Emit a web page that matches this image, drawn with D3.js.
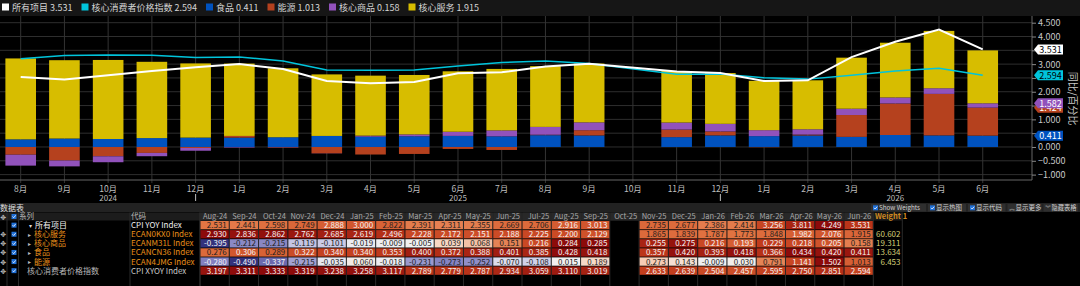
<!DOCTYPE html>
<html><head><meta charset="utf-8">
<script src="https://cdn.jsdelivr.net/npm/d3@7"></script>
<style>
html,body{margin:0;padding:0;background:#000;}
svg{display:block;font-family:"Noto Sans CJK SC","Noto Sans",sans-serif;}
</style></head><body>
<svg id="chart" width="1080" height="286"></svg>
<script>
var months = ['Aug-24','Sep-24','Oct-24','Nov-24','Dec-24','Jan-25','Feb-25','Mar-25','Apr-25','May-25','Jun-25','Jul-25',
  'Aug-25','Sep-25','Oct-25','Nov-25','Dec-25','Jan-26','Feb-26','Mar-26','Apr-26','May-26','Jun-26'];
var monthTicks = ['8月','9月','10月','11月','12月','1月','2月','3月','4月','5月','6月','7月',
  '8月','9月','10月','11月','12月','1月','2月','3月','4月','5月','6月'];
var yearTicks = ['2024','2025','2026'];
var yearTickAt = ['Oct-24','Jun-25','Apr-26'];
var yearMarkAt = ['Dec-24','Dec-25'];

var allItems     = [2.531,2.441,2.598,2.749,2.888,3.000,2.822,2.391,2.311,2.355,2.669,2.706,2.916,3.013,null,2.735,2.677,2.386,2.414,3.256,3.811,4.249,3.531];
var coreServices = [2.930,2.836,2.862,2.762,2.685,2.619,2.496,2.228,2.172,2.151,2.188,2.225,2.200,2.129,null,1.865,1.839,1.787,1.773,1.848,1.982,2.076,1.915];
var coreGoods    = [-0.395,-0.212,-0.215,-0.119,-0.101,-0.019,-0.009,-0.005,0.039,0.068,0.151,0.216,0.284,0.285,null,0.255,0.275,0.216,0.193,0.229,0.218,0.205,0.158];
var food         = [0.276,0.306,0.289,0.322,0.340,0.340,0.353,0.400,0.372,0.388,0.401,0.385,0.428,0.418,null,0.357,0.420,0.393,0.418,0.366,0.434,0.420,0.411];
var energy       = [-0.280,-0.490,-0.337,-0.215,-0.035,0.060,-0.018,-0.231,-0.273,-0.252,-0.070,-0.108,0.015,0.189,null,0.273,0.143,-0.009,0.030,0.791,1.141,1.502,1.013];
var coreCPI      = [3.197,3.311,3.333,3.319,3.238,3.258,3.117,2.789,2.779,2.787,2.934,3.059,3.110,3.019,null,2.633,2.639,2.504,2.457,2.595,2.750,2.851,2.594];
var weights      = [null,60.602,19.311,13.634,6.453,null];

var yTicks = [4.5,4,3.5,3,2.5,2,1.5,1,0.5,0,-0.5,-1];

var C = { all:'#ffffff', core:'#00c4dc', food:'#0052bf', energy:'#b5411e', goods:'#9152bb', services:'#d7bd00' };

var svg = d3.select('#chart');
var W = 1080;

// ---- legend strip ----
svg.append('rect').attr('x',0).attr('y',0).attr('width',W).attr('height',16).attr('fill','#161616');
var legendItems = [
  ['所有项目', allItems, C.all], ['核心消费者价格指数', coreCPI, C.core], ['食品', food, C.food],
  ['能源', energy, C.energy], ['核心商品', coreGoods, C.goods], ['核心服务', coreServices, C.services]
];
var lx = 2;
legendItems.forEach(function (it) {
  svg.append('rect').attr('x',lx).attr('y',3.5).attr('width',7).attr('height',7).attr('fill',it[2]);
  var t = svg.append('text').attr('x',lx+10).attr('y',10.5).attr('font-size',9).attr('fill','#d4d4d4')
    .text(it[0] + ' ' + it[1][it[1].length-1].toFixed(3));
  lx += 10 + t.node().getComputedTextLength() + 9;
});

// ---- plot scales ----
var x = d3.scaleBand().domain(months).range([-1.17, 1004.6]).paddingInner(0.3).paddingOuter(0.15);
var bw = x.bandwidth();
function cx(m) { return x(m) + bw / 2; }
var y = d3.scaleLinear().domain([-1, 4.5]).range([174.6, 22.7]);
var PT = 16, PB = 180, PR = 1032;

var grid = svg.append('g');
d3.range(-1, 4.51, 0.5).forEach(function (v) {
  grid.append('line').attr('x1',0).attr('x2',PR).attr('y1',y(v)).attr('y2',y(v)).attr('stroke','#2e2e2e').attr('stroke-width',1);
});
months.forEach(function (m) {
  grid.append('line').attr('x1',cx(m)).attr('x2',cx(m)).attr('y1',PT).attr('y2',PB+3).attr('stroke','#333').attr('stroke-width',1);
});

// ---- stacked bars ----
var stackRows = months.map(function (m, i) {
  return { month: m, food: food[i], energy: energy[i], goods: coreGoods[i], services: coreServices[i] };
});
var keys = ['food','energy','goods','services'];
var layers = d3.stack().keys(keys).value(function (d, k) { return d[k] == null ? 0 : d[k]; })
  .offset(d3.stackOffsetDiverging)(stackRows);

var gBars = svg.append('g');
layers.forEach(function (layer) {
  gBars.selectAll(null).data(layer.filter(function (d) { return d[1] !== d[0]; })).enter().append('rect')
    .attr('x', function (d) { return x(d.data.month); })
    .attr('width', bw)
    .attr('y', function (d) { return y(Math.max(d[0], d[1])); })
    .attr('height', function (d) { return Math.abs(y(d[0]) - y(d[1])); })
    .attr('fill', C[layer.key]);
});

// ---- lines ----
function lineData(arr) {
  return months.map(function (m, i) { return { m: m, v: arr[i] }; }).filter(function (d) { return d.v != null; });
}
var line = d3.line().x(function (d) { return cx(d.m); }).y(function (d) { return y(d.v); });
svg.append('path').datum(lineData(coreCPI)).attr('d', line).attr('fill','none').attr('stroke',C.core).attr('stroke-width',1.5);
svg.append('path').datum(lineData(allItems)).attr('d', line).attr('fill','none').attr('stroke',C.all).attr('stroke-width',2);

// ---- axes frame ----
svg.append('line').attr('x1',0).attr('x2',PR).attr('y1',PB).attr('y2',PB).attr('stroke','#666');
svg.append('line').attr('x1',PR).attr('x2',PR).attr('y1',PT).attr('y2',PB).attr('stroke','#666');

// ---- last-value tags (computed first so the tick labels they cover can be dropped) ----
var last = months.length - 1;
function stackTop(key) { return layers.filter(function (L) { return L.key === key; })[0][last][1]; }
var tags = [
  [stackTop('food'), C.food, '#fff'],
  [stackTop('energy'), C.energy, '#fff'],
  [stackTop('goods'), C.goods, '#fff'],
  [coreCPI[last], C.core, '#000'],
  [allItems[last], C.all, '#000']
];
var shownTicks = yTicks.filter(function (v) {
  return !tags.some(function (t) { return Math.abs(y(v) - y(t[0])) < 8; });
});

var gy = svg.append('g').attr('transform','translate(' + PR + ',0)')
  .call(d3.axisRight(y).tickValues(yTicks).tickSize(4).tickPadding(2)
    .tickFormat(function (v) { return shownTicks.indexOf(v) >= 0 ? d3.format('.3f')(v) : ''; }));
gy.select('.domain').remove();
gy.selectAll('line').attr('stroke','#888');
gy.selectAll('text').attr('fill','#c8c8c8').attr('font-size',9).attr('font-family','"Noto Sans CJK SC",sans-serif');

tags.forEach(function (t) {
  var yy = y(t[0]), x0 = 1034;
  svg.append('path').attr('d','M' + x0 + ',' + yy + 'L' + (x0+4) + ',' + (yy-5) + 'H' + (x0+29) + 'V' + (yy+5) + 'H' + (x0+4) + 'Z').attr('fill', t[1]);
  svg.append('text').attr('x',x0+16.5).attr('y',yy+3.3).attr('text-anchor','middle').attr('font-size',9).attr('fill',t[2]).text(t[0].toFixed(3));
});

svg.append('text').attr('transform','translate(1069,' + y(1.75) + ') rotate(90)').attr('text-anchor','middle')
  .attr('font-size',10).attr('fill','#c8c8c8').text('同比/百分比');

// month ticks
var gx = svg.append('g');
months.forEach(function (m, i) {
  gx.append('text').attr('x',cx(m)).attr('y',191.5).attr('text-anchor','middle').attr('font-size',8.5).attr('fill','#bdbdbd').text(monthTicks[i]);
});
yearTicks.forEach(function (t, i) {
  gx.append('text').attr('x',cx(yearTickAt[i])).attr('y',201).attr('text-anchor','middle').attr('font-size',8).attr('fill','#bdbdbd').text(t);
});
yearMarkAt.forEach(function (m) {
  gx.append('line').attr('x1',cx(m)).attr('x2',cx(m)).attr('y1',194).attr('y2',201).attr('stroke','#bdbdbd');
});

// ---- data table ----
var T = svg.append('g');
T.append('rect').attr('x',0).attr('y',203).attr('width',W).attr('height',9).attr('fill','#222');
T.append('text').attr('x',0).attr('y',210.5).attr('font-size',8).attr('fill','#ddd').text('数据表');

// toolbar
var tools = [[873,'Show Weights',true,41],[930,'显示热图',true,26],[970,'显示代码',true,26],[1009.5,'显示更多',false,26],[1045.5,'隐藏表格',false,25]];
tools.forEach(function (t, i) {
  var nx = i < tools.length - 1 ? tools[i+1][0] - 2 : W;
  T.append('rect').attr('x',t[0]-2).attr('y',204).attr('width',nx - t[0]).attr('height',7.5).attr('fill','#2f2f2f');
  if (t[2]) {
    T.append('rect').attr('x',t[0]).attr('y',205.3).attr('width',5).attr('height',5).attr('fill','#1f6fd6');
    T.append('path').attr('d','M' + (t[0]+1) + ',207.8l1.2,1.2l2,-2.4').attr('stroke','#fff').attr('stroke-width',0.8).attr('fill','none');
  } else {
    T.append('text').attr('x',t[0]+2.5).attr('y',209.8).attr('text-anchor','middle').attr('font-size',5.5).attr('fill','#bbb').text(i === 3 ? '︽' : '︾');
  }
  T.append('text').attr('x',t[0]+6).attr('y',210).attr('font-size',6.3).attr('fill','#cfcfcf')
    .attr('textLength',t[3]).attr('lengthAdjust','spacingAndGlyphs').text(t[1]);
});

var tx = d3.scaleBand().domain(months).range([200, 873.3]);
var cw = tx.bandwidth();
var HY = 212.5, HH = 8, RY = 221, RP = 9.1, RH = 8.3;

// header
T.append('rect').attr('x',0).attr('y',HY).attr('width',902).attr('height',HH).attr('fill','#1c1c1c');
months.forEach(function (m) {
  T.append('rect').attr('x',tx(m)+0.5).attr('y',HY).attr('width',cw-1).attr('height',HH).attr('fill','#282828');
  T.append('text').attr('x',tx(m)+cw-2).attr('y',HY+6.7).attr('text-anchor','end').attr('font-size',7.5).attr('fill','#a8a8a8').text(m);
});
T.append('text').attr('x',19).attr('y',HY+6.7).attr('font-size',7.5).attr('fill','#b8b8b8').text('系列');
T.append('text').attr('x',131).attr('y',HY+6.7).attr('font-size',7.5).attr('fill','#b8b8b8').text('代码');
T.append('text').attr('x',875).attr('y',HY+6.7).attr('font-size',7.5).attr('font-weight','bold').attr('fill','#d08a20').text('Weight 1');

// column separators
[7,18.5,130,200,873.3,902.3].concat(months.map(function (m) { return tx(m); })).forEach(function (xx) {
  T.append('line').attr('x1',xx).attr('x2',xx).attr('y1',HY).attr('y2',286).attr('stroke','#2a2a2a').attr('stroke-width',1);
});

var tableRows = [
  { name:'所有项目', code:'CPI YOY Index', vals: allItems, kind:0 },
  { name:'核心服务', code:'ECAN0KX0 Index', vals: coreServices, kind:1 },
  { name:'核心商品', code:'ECANM31L Index', vals: coreGoods, kind:1 },
  { name:'食品', code:'ECANCN36 Index', vals: food, kind:1 },
  { name:'能源', code:'ECAN4JMG Index', vals: energy, kind:1 },
  { name:'核心消费者价格指数', code:'CPI XYOY Index', vals: coreCPI, kind:2 }
];
var posColor = d3.scaleLinear().domain([0,0.15,0.6,0.8,1]).range(['#f2f2f2','#f7d4bf','#e27442','#c23c1c','#8c0a0a']).clamp(true);
var negColor = d3.scaleLinear().domain([0,0.3,0.6,1]).range(['#f2f2f2','#c4c4e4','#7b79bc','#33327c']).clamp(true);
var ORANGE = '#e8901a';

function checkbox(x0, y0) {
  T.append('rect').attr('x',x0).attr('y',y0).attr('width',5).attr('height',5).attr('fill','#1f6fd6');
  T.append('path').attr('d','M' + (x0+1) + ',' + (y0+2.5) + 'l1.2,1.2l2,-2.4').attr('stroke','#fff').attr('stroke-width',0.8).attr('fill','none');
}
function mover(x0, yc) {
  T.append('text').attr('x',x0).attr('y',yc+3).attr('text-anchor','middle').attr('font-size',7).attr('font-family','"DejaVu Sans"').attr('fill','#bbb').text('✥');
}
mover(3.2, HY+4); checkbox(11.5, HY+1.5);

tableRows.forEach(function (r, ri) {
  var ry = RY + ri * RP, yc = ry + RH / 2;
  if (ri > 0) mover(3.2, yc);
  checkbox(11.5, yc - 2.5);
  var nameColor = r.kind === 0 ? '#f0f0f0' : r.kind === 1 ? ORANGE : '#b8b8b8';
  if (r.kind === 0) T.append('text').attr('x',29).attr('y',yc+2.5).attr('font-size',6).attr('fill','#ddd').text('▾');
  if (r.kind === 1) T.append('text').attr('x',28).attr('y',yc+2.3).attr('font-size',5.5).attr('fill','#bbb').text('▸');
  T.append('text').attr('x', r.kind === 2 ? 27 : r.kind === 0 ? 35 : 34).attr('y',yc+3).attr('font-size',8).attr('fill',nameColor).text(r.name);
  T.append('text').attr('x',131).attr('y',yc+3).attr('font-size',8).attr('fill', r.kind === 1 ? ORANGE : r.kind === 0 ? '#f0f0f0' : '#c8c8c8').text(r.code);

  var vmax = d3.max(r.vals), vmin = d3.min(r.vals);
  months.forEach(function (m, i) {
    var v = r.vals[i];
    if (v == null) return;
    var t = v >= 0 ? (vmax > 0 ? v / vmax : 0) : v / vmin;
    var col = v >= 0 ? posColor(t) : negColor(t);
    var light = v >= 0 ? t >= 0.675 : t >= 0.565;
    T.append('rect').attr('x',tx(m)+0.5).attr('y',ry).attr('width',cw-1).attr('height',RH).attr('fill',col);
    T.append('text').attr('x',tx(m)+cw-2.5).attr('y',yc+3).attr('text-anchor','end').attr('font-size',8)
      .attr('fill', light ? '#f4f4f4' : '#1e1e1e').text(v.toFixed(3));
  });
  if (weights[ri] != null) {
    T.append('text').attr('x',900.5).attr('y',yc+3).attr('text-anchor','end').attr('font-size',8).attr('fill','#d2cf78').text(weights[ri].toFixed(3));
  }
});
</script></body></html>
